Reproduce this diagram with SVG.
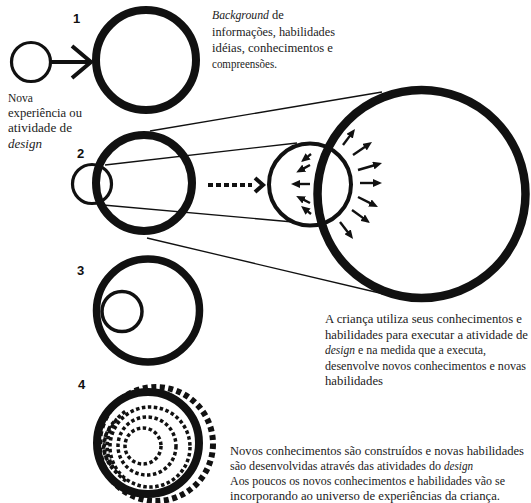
<svg xmlns="http://www.w3.org/2000/svg" width="531" height="503" viewBox="0 0 531 503">
<defs>
<marker id="tri" viewBox="0 0 9 8" refX="2" refY="4" markerWidth="9" markerHeight="8" markerUnits="userSpaceOnUse" orient="auto"><path d="M0,0 L9,4 L0,8 z" fill="#111"/></marker>
</defs>
<style>
.ring{fill:none;stroke:#111}
.thick{stroke-width:8}
.thin{stroke-width:3.2}
.t{font-size:12.5px;fill:#222}
.i{font-style:italic}
.n{font-family:'Liberation Sans',Arial,sans-serif;font-weight:bold;font-size:13px;fill:#111}
.ln{stroke:#111;stroke-width:1.3;fill:none}
.arr{stroke:#111;stroke-width:2.4;fill:none;marker-end:url(#tri)}
.chev{stroke:#111;stroke-width:4;fill:none;stroke-linejoin:miter}
.dot{fill:none;stroke:#111;stroke-width:3.5;stroke-dasharray:3.5 2.5}
</style>
<rect width="531" height="503" fill="#fff"/>

<g id="connectors">
<line class="ln" x1="150" y1="131" x2="382" y2="92"/>
<line class="ln" x1="147" y1="238" x2="388" y2="295"/>
<line class="ln" x1="105" y1="165" x2="297" y2="143"/>
<line class="ln" x1="103" y1="205" x2="293" y2="222"/>
<line x1="52" y1="62" x2="89" y2="62" stroke="#111" stroke-width="4"/>
<polyline class="chev" points="72,46 91,62 72,78"/>
<line x1="208" y1="185" x2="252" y2="185" stroke="#111" stroke-width="4" stroke-dasharray="5 3"/>
<polyline class="chev" points="255,178 263,185 255,192" stroke-width="3.5"/>
</g>

<g id="stage1">
<text class="n" x="73" y="23">1</text>
<circle class="ring thin" cx="31" cy="62" r="19.5"/>
<circle class="ring thick" cx="146" cy="60" r="50"/>
</g>

<g id="stage2">
<text class="n" x="77" y="158">2</text>
<circle class="ring thin" cx="92" cy="184" r="19.5"/>
<circle class="ring thick" cx="144" cy="183" r="48"/>
</g>

<g id="zoom">
<circle class="ring" stroke-width="4" cx="310" cy="184.5" r="41"/>
<circle class="ring" stroke-width="8.5" cx="421.5" cy="194" r="104"/>
<line class="arr" x1="311" y1="154" x2="306.5" y2="157.6"/>
<line class="arr" x1="310" y1="165" x2="302.4" y2="169.1"/>
<line class="arr" x1="310" y1="184" x2="298" y2="184"/>
<line class="arr" x1="310" y1="203" x2="302.4" y2="199.1"/>
<line class="arr" x1="311" y1="214" x2="306.5" y2="210.4"/>
<line class="arr" x1="343" y1="145" x2="350.8" y2="134.6"/>
<line class="arr" x1="353" y1="155" x2="366.2" y2="146"/>
<line class="arr" x1="358" y1="170" x2="375.3" y2="165"/>
<line class="arr" x1="360" y1="183" x2="375" y2="183"/>
<line class="arr" x1="358" y1="197" x2="371.7" y2="203.9"/>
<line class="arr" x1="352" y1="210" x2="364.3" y2="218.9"/>
<line class="arr" x1="340" y1="222" x2="348.8" y2="233.4"/>
</g>

<g id="stage3">
<text class="n" x="77" y="275">3</text>
<circle class="ring" stroke-width="7.5" cx="148" cy="310.5" r="51.5"/>
<circle class="ring" stroke-width="3.5" cx="122" cy="311.5" r="20"/>
</g>

<g id="stage4">
<text class="n" x="78" y="389">4</text>
<circle class="ring" stroke-width="6" stroke-dasharray="5 3.5" cx="156" cy="444" r="57"/>
<circle class="ring thick" cx="148" cy="443" r="51"/>
<circle class="dot" cx="150" cy="447" r="40"/>
<circle class="dot" cx="147" cy="446" r="29"/>
<circle class="dot" cx="143" cy="446" r="18"/>
<path class="dot" d="M126,481 A42,42 0 0 1 126,411"/>
<path class="dot" d="M117,473 A35,35 0 0 1 117,419"/>
<path class="dot" stroke-dasharray="3 3" d="M111,465 A28,28 0 0 1 111,427"/>
</g>

<g id="texts" font-family="'Liberation Serif','DejaVu Serif',serif">
<text class="t i" x="212" y="19" textLength="57" lengthAdjust="spacingAndGlyphs">Background</text>
<text class="t" x="272" y="19">de</text>
<text class="t" x="212" y="36" textLength="123" lengthAdjust="spacingAndGlyphs">informações, habilidades</text>
<text class="t" x="212" y="52" textLength="121" lengthAdjust="spacingAndGlyphs">idéias, conhecimentos e</text>
<text class="t" x="212" y="68" textLength="65" lengthAdjust="spacingAndGlyphs">compreensões.</text>

<text class="t" x="8" y="101.5" textLength="25" lengthAdjust="spacingAndGlyphs">Nova</text>
<text class="t" x="8" y="116.5" textLength="74" lengthAdjust="spacingAndGlyphs">experiência ou</text>
<text class="t" x="8" y="132" textLength="64" lengthAdjust="spacingAndGlyphs">atividade de</text>
<text class="t i" x="8" y="147.5" textLength="34" lengthAdjust="spacingAndGlyphs">design</text>

<text class="t" x="325" y="323" textLength="197" lengthAdjust="spacingAndGlyphs">A criança utiliza seus conhecimentos e</text>
<text class="t" x="325" y="338.5" textLength="203" lengthAdjust="spacingAndGlyphs">habilidades para executar a atividade de</text>
<text class="t i" x="325" y="354" textLength="30" lengthAdjust="spacingAndGlyphs">design</text>
<text class="t" x="358" y="354" textLength="128" lengthAdjust="spacingAndGlyphs">e na medida que a executa,</text>
<text class="t" x="325" y="369.5" textLength="201" lengthAdjust="spacingAndGlyphs" font-size="11.4">desenvolve novos conhecimentos e novas</text>
<text class="t" x="325" y="385" textLength="58" lengthAdjust="spacingAndGlyphs">habilidades</text>

<text class="t" x="230" y="455" textLength="294" lengthAdjust="spacingAndGlyphs">Novos conhecimentos são construídos e novas habilidades</text>
<text class="t" x="230" y="470" textLength="211" lengthAdjust="spacingAndGlyphs" font-size="11.9">são desenvolvidas através das atividades do</text>
<text class="t i" x="444" y="470" textLength="29" lengthAdjust="spacingAndGlyphs">design</text>
<text class="t" x="230" y="485" textLength="275" lengthAdjust="spacingAndGlyphs">Aos poucos os novos conhecimentos e habilidades vão se</text>
<text class="t" x="230" y="499.5" textLength="270" lengthAdjust="spacingAndGlyphs">incorporando ao universo de experiências da criança.</text>
</g>
</svg>
